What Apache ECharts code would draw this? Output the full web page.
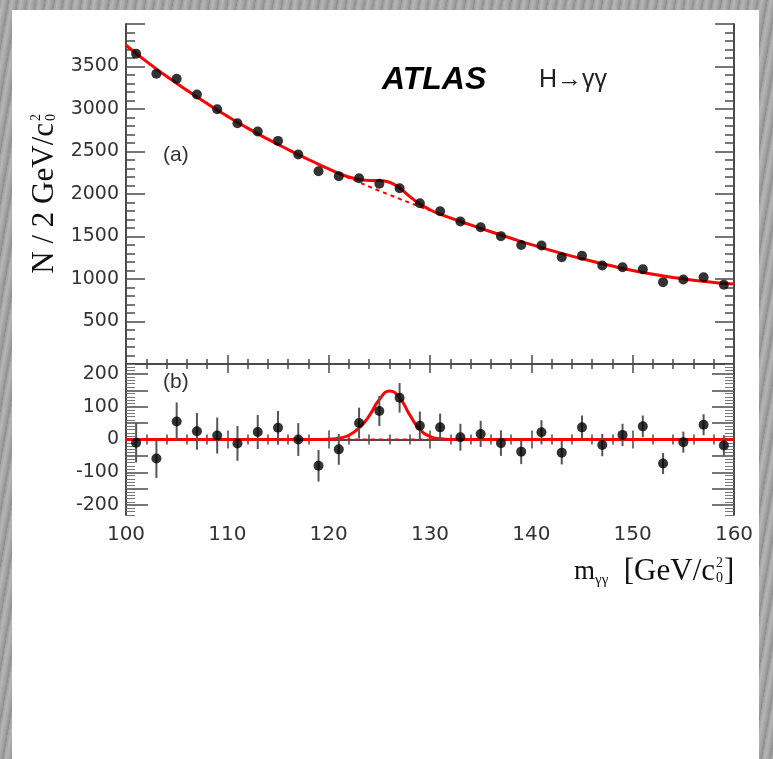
<!DOCTYPE html>
<html>
<head>
<meta charset="utf-8">
<script src="https://cdn.jsdelivr.net/npm/echarts@6/dist/echarts.min.js"></script>
<style>
html, body { margin: 0; padding: 0; width: 773px; height: 759px; overflow: hidden; }
body { background: repeating-linear-gradient(100deg, #9d9d9d 0px, #b6b6b6 3px, #a4a4a4 6px, #8e8e8e 9px); }
#panel { position: absolute; left: 12px; top: 10px; width: 747px; height: 749px; background: #fff; }
#main { position: absolute; left: 0; top: 0; width: 773px; height: 759px; }
</style>
</head>
<body>
<div id="panel"></div>
<div id="main"></div>
<script>
// bin centres (2 GeV bins)
const massBins = [101, 103, 105, 107, 109, 111, 113, 115, 117, 119, 121, 123, 125, 127, 129,
  131, 133, 135, 137, 139, 141, 143, 145, 147, 149, 151, 153, 155, 157, 159]
// events / 2 GeV (panel a)
const counts = [3650, 3414, 3355, 3170, 2998, 2833, 2735, 2625, 2465, 2268, 2210, 2186, 2120, 2068, 1892,
  1798, 1676, 1609, 1504, 1400, 1394, 1257, 1273, 1159, 1139, 1115, 963, 994, 1021, 932]
// data - background (panel b)
const residuals = [-10, -58, 55, 25, 12, -12, 23, 36, 0, -80, -30, 50, 87, 127, 42,
  37, 7, 17, -11, -37, 22, -40, 37, -17, 14, 40, -73, -8, 45, -18]
const residualErrors = [60, 59, 58, 56, 55, 53, 52, 51, 50, 48, 47, 47, 46, 45, 43,
  42, 41, 40, 39, 38, 37, 36, 36, 34, 34, 33, 32, 32, 32, 31]

// fit curves
const fitMass = [100, 102, 104, 106, 108, 110, 112, 114, 116, 118, 119, 120, 121, 122, 123, 124, 125, 126,
  127, 128, 129, 130, 131, 132, 133, 134, 136, 138, 140, 142, 144, 146, 148, 150, 152, 154, 156, 158, 160]
const fitBackground = [3750, 3560, 3385, 3221, 3064, 2915, 2775, 2645, 2523, 2406, 2349, 2294, 2240, 2188, 2137, 2087, 2038, 1990,
  1943, 1896, 1851, 1806, 1762, 1719, 1677, 1636, 1556, 1479, 1404, 1334, 1269, 1209, 1152, 1100, 1055, 1017, 985, 960, 940]
const fitSignal = [0, 0, 0, 0, 0, 0, 0, 0, 0, 0, 0, 1, 4, 13, 35, 72, 122, 148,
  127, 75, 30, 9, 2, 0, 0, 0, 0, 0, 0, 0, 0, 0, 0, 0, 0, 0, 0, 0, 0]
const dashRange = [121, 130]

const topYLabels = [500, 1000, 1500, 2000, 2500, 3000, 3500]
const bottomYLabels = [-200, -100, 0, 100, 200]

const frameColor = '#4a4a4a'
const labelColor = '#333'
const labelFont = 'DejaVu Sans'

// ticks for the lower panel (ROOT style, dense hatching)
const bottomMajorTicks = []
for (let v = -200; v <= 200; v += 50) bottomMajorTicks.push(v)
const bottomMinorTicks = []
for (let v = -230; v <= 230; v += 10) bottomMinorTicks.push(v)

const chart = echarts.init(document.getElementById('main'))

const xBase = {
  type: 'value', min: 100, max: 160, interval: 10,
  axisLine: { lineStyle: { color: frameColor, width: 2 } },
  axisTick: { inside: true, length: 9, lineStyle: { color: frameColor, width: 1.5 } },
  minorTick: { show: true, splitNumber: 5, length: 5, lineStyle: { color: frameColor, width: 1.5 } },
  axisLabel: { show: false },
  splitLine: { show: false }
}

const fitTop = fitMass.map((m, i) => [m, fitBackground[i] + fitSignal[i]])
const bgDash = fitMass.map((m, i) => [m, fitBackground[i]]).filter(p => p[0] >= dashRange[0] && p[0] <= dashRange[1])
const sigLine = fitMass.map((m, i) => [m, fitSignal[i]])

const option = {
  animation: false,
  grid: [
    { left: 126, top: 24, width: 608, height: 340 },
    { left: 126, top: 364, width: 608, height: 151 }
  ],
  xAxis: [
    Object.assign({}, xBase, { gridIndex: 0, position: 'bottom' }),
    Object.assign({}, xBase, { gridIndex: 0, position: 'top' }),
    Object.assign({}, xBase, {
      gridIndex: 1, position: 'bottom',
      axisLabel: { show: true, color: labelColor, fontFamily: labelFont, fontSize: 20, margin: 10 }
    }),
    Object.assign({}, xBase, { gridIndex: 1, position: 'top' })
  ],
  yAxis: [
    {
      gridIndex: 0, type: 'value', position: 'left', min: 0, max: 4000, interval: 500,
      axisLine: { show: true, lineStyle: { color: frameColor, width: 2 } },
      axisTick: { show: true, inside: true, length: 19, lineStyle: { color: frameColor, width: 1.5 } },
      minorTick: { show: true, splitNumber: 5, length: 9, lineStyle: { color: frameColor, width: 1.5 } },
      axisLabel: {
        color: labelColor, fontFamily: labelFont, fontSize: 19, margin: 7,
        formatter: v => topYLabels.indexOf(v) >= 0 ? String(v) : ''
      },
      splitLine: { show: false }
    },
    {
      gridIndex: 0, type: 'value', position: 'right', min: 0, max: 4000, interval: 500,
      axisLine: { show: true, lineStyle: { color: frameColor, width: 2 } },
      axisTick: { show: true, inside: true, length: 19, lineStyle: { color: frameColor, width: 1.5 } },
      minorTick: { show: true, splitNumber: 5, length: 9, lineStyle: { color: frameColor, width: 1.5 } },
      axisLabel: { show: false },
      splitLine: { show: false }
    },
    {
      gridIndex: 1, type: 'value', position: 'left', min: -230, max: 230,
      axisLine: { show: true, lineStyle: { color: frameColor, width: 2 } },
      axisTick: { show: true, inside: true, length: 22, customValues: bottomMajorTicks, lineStyle: { color: frameColor, width: 1.5 } },
      axisLabel: { color: labelColor, fontFamily: labelFont, fontSize: 19, margin: 7, customValues: bottomYLabels },
      splitLine: { show: false }
    },
    {
      gridIndex: 1, type: 'value', position: 'left', min: -230, max: 230,
      axisLine: { show: false },
      axisTick: { show: true, inside: true, length: 9, customValues: bottomMinorTicks, lineStyle: { color: '#777', width: 1 } },
      axisLabel: { show: false },
      splitLine: { show: false }
    },
    {
      gridIndex: 1, type: 'value', position: 'right', min: -230, max: 230,
      axisLine: { show: true, lineStyle: { color: frameColor, width: 2 } },
      axisTick: { show: true, inside: true, length: 22, customValues: bottomMajorTicks, lineStyle: { color: frameColor, width: 1.5 } },
      axisLabel: { show: false },
      splitLine: { show: false }
    },
    {
      gridIndex: 1, type: 'value', position: 'right', min: -230, max: 230,
      axisLine: { show: false },
      axisTick: { show: true, inside: true, length: 9, customValues: bottomMinorTicks, lineStyle: { color: '#777', width: 1 } },
      axisLabel: { show: false },
      splitLine: { show: false }
    }
  ],
  series: [
    // panel (a)
    {
      type: 'line', xAxisIndex: 0, yAxisIndex: 0, data: fitTop, smooth: 0.5,
      showSymbol: false, lineStyle: { color: '#ff0000', width: 3 }, z: 3
    },
    {
      type: 'line', xAxisIndex: 0, yAxisIndex: 0, data: bgDash, smooth: 0.5,
      showSymbol: false, lineStyle: { color: '#ff0000', width: 2, type: [4, 4] }, z: 3
    },
    {
      type: 'scatter', xAxisIndex: 0, yAxisIndex: 0, data: massBins.map((m, i) => [m, counts[i]]),
      symbolSize: 10, itemStyle: { color: '#000' }, z: 5
    },
    // panel (b)
    {
      type: 'line', xAxisIndex: 2, yAxisIndex: 2, data: sigLine, smooth: 0.5,
      showSymbol: false, lineStyle: { color: '#ff0000', width: 3 }, z: 3
    },
    {
      type: 'line', xAxisIndex: 2, yAxisIndex: 2, data: [[dashRange[0], 0], [dashRange[1], 0]],
      showSymbol: false, lineStyle: { color: '#ff0000', width: 2, type: [4, 4] }, z: 2
    },
    {
      type: 'custom', xAxisIndex: 2, yAxisIndex: 2, z: 4,
      data: massBins.map((m, i) => [m, residuals[i] - residualErrors[i], residuals[i] + residualErrors[i]]),
      renderItem: function (params, api) {
        const lo = api.coord([api.value(0), api.value(1)])
        const hi = api.coord([api.value(0), api.value(2)])
        return {
          type: 'line',
          shape: { x1: lo[0], y1: lo[1], x2: hi[0], y2: hi[1] },
          style: { stroke: '#555', lineWidth: 2 }
        }
      }
    },
    {
      type: 'scatter', xAxisIndex: 2, yAxisIndex: 2, data: massBins.map((m, i) => [m, residuals[i]]),
      symbolSize: 10, itemStyle: { color: '#000' }, z: 5
    }
  ],
  graphic: [
    { type: 'text', x: 382, y: 80, style: { text: 'ATLAS', font: 'italic bold 32px Liberation Sans', fill: '#000', verticalAlign: 'middle' } },
    { type: 'text', x: 539, y: 80, style: { text: 'H→γγ', font: '25px Liberation Sans', fill: '#222', verticalAlign: 'middle' } },
    { type: 'text', x: 163, y: 155, style: { text: '(a)', font: '21px Liberation Sans', fill: '#333', verticalAlign: 'middle' } },
    { type: 'text', x: 163, y: 382, style: { text: '(b)', font: '21px Liberation Sans', fill: '#333', verticalAlign: 'middle' } },
    {
      type: 'group', x: 45, y: 193, rotation: Math.PI / 2,
      children: [
        { type: 'text', x: 70, y: 0, style: { text: 'N / 2 GeV/c', font: '31px Liberation Serif', fill: '#111', align: 'right', verticalAlign: 'middle' } },
        { type: 'text', x: 72, y: -9, style: { text: '2', font: '14px Liberation Serif', fill: '#111', align: 'left', verticalAlign: 'middle' } },
        { type: 'text', x: 72, y: 6, style: { text: '0', font: '14px Liberation Serif', fill: '#111', align: 'left', verticalAlign: 'middle' } }
      ]
    },
    { type: 'text', x: 574, y: 572, style: { text: 'm', font: '27px Liberation Serif', fill: '#111', verticalAlign: 'middle' } },
    { type: 'text', x: 595, y: 580, style: { text: 'γγ', font: '15px Liberation Serif', fill: '#111', verticalAlign: 'middle' } },
    { type: 'text', x: 715, y: 572, style: { text: '[GeV/c', font: '31px Liberation Serif', fill: '#111', align: 'right', verticalAlign: 'middle' } },
    { type: 'text', x: 716, y: 563, style: { text: '2', font: '14px Liberation Serif', fill: '#111', verticalAlign: 'middle' } },
    { type: 'text', x: 716, y: 578, style: { text: '0', font: '14px Liberation Serif', fill: '#111', verticalAlign: 'middle' } },
    { type: 'text', x: 724, y: 572, style: { text: ']', font: '31px Liberation Serif', fill: '#111', verticalAlign: 'middle' } }
  ]
}

chart.setOption(option)
</script>
</body>
</html>
